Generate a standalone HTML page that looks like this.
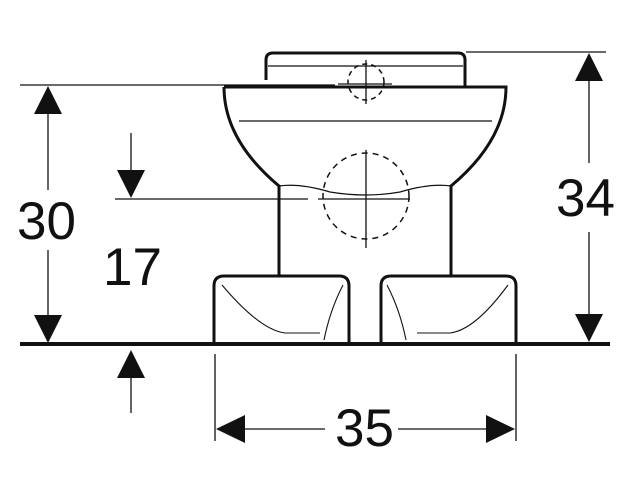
<!DOCTYPE html>
<html><head><style>
html,body{margin:0;padding:0;background:#fff;}
svg{display:block;}
text{font-family:"Liberation Sans",sans-serif;font-size:53px;fill:#111;}
</style></head><body>
<svg width="642" height="479" viewBox="0 0 642 479" xmlns="http://www.w3.org/2000/svg">
<g stroke="#111" fill="none">
<!-- tank -->
<path d="M266,80 L266,60 Q266,53 273,53 L458,53 Q465,53 465,60 L465,87" stroke-width="3"/>
<line x1="268" y1="66" x2="463" y2="66" stroke-width="1.3"/>
<!-- bowl -->
<path d="M224,87 L506,87 Q506,140 451,186 L451,276 M279,276 L279,186 Q224,140 224,87" stroke-width="3"/>
<line x1="239" y1="121" x2="492" y2="121" stroke-width="1.3"/>
<path d="M279,186 Q300,183 330,192 Q366,198 400,192 Q430,183 451,186" stroke-width="1.2"/>
<!-- feet -->
<path d="M214,343 L214,286 Q214,276 224,276 L339,276 Q349,276 349,286 L349,343" stroke-width="3"/>
<path d="M381,343 L381,286 Q381,276 391,276 L506,276 Q516,276 516,286 L516,343" stroke-width="3"/>
<path d="M222,285 Q260,330 285,333 L320,333 M343,285 Q330,310 324,340" stroke-width="1.1"/>
<path d="M387,285 Q400,310 406,340 M417,333 L450,333 Q475,330 508,285" stroke-width="1.1"/>
<!-- dashed circles -->
<circle cx="366" cy="82" r="18" stroke-width="1.5" stroke-dasharray="5,4"/>
<line x1="366" y1="60" x2="366" y2="104" stroke-width="1.3"/>
<line x1="338" y1="84" x2="392" y2="84" stroke-width="1.3"/>
<circle cx="366" cy="196" r="43" stroke-width="1.5" stroke-dasharray="6,5"/>
<line x1="366" y1="150" x2="366" y2="248" stroke-width="1.3"/>
<!-- ground -->
<line x1="20" y1="344" x2="610" y2="344" stroke-width="4"/>
<!-- 30 -->
<line x1="20" y1="85" x2="335" y2="85" stroke-width="1.3"/>
<line x1="48" y1="110" x2="48" y2="190" stroke-width="1.3"/>
<line x1="48" y1="250" x2="48" y2="320" stroke-width="1.3"/>
<!-- 17 -->
<line x1="131" y1="133" x2="131" y2="175" stroke-width="1.3"/>
<line x1="115" y1="199" x2="308" y2="199" stroke-width="1.3"/>
<line x1="318" y1="199" x2="410" y2="199" stroke-width="1.3"/>
<line x1="131" y1="375" x2="131" y2="413" stroke-width="1.3"/>
<!-- 34 -->
<line x1="466" y1="52" x2="606" y2="52" stroke-width="1.3"/>
<line x1="589" y1="80" x2="589" y2="163" stroke-width="1.3"/>
<line x1="589" y1="232" x2="589" y2="316" stroke-width="1.3"/>
<!-- 35 -->
<line x1="215" y1="354" x2="215" y2="441" stroke-width="1.3"/>
<line x1="516" y1="354" x2="516" y2="441" stroke-width="1.3"/>
<line x1="240" y1="429" x2="325" y2="429" stroke-width="1.3"/>
<line x1="398" y1="429" x2="490" y2="429" stroke-width="1.3"/>
</g>
<g fill="#111">
<polygon points="48,86 34,114 62,114"/>
<polygon points="48,343 34,315 62,315"/>
<polygon points="131,198 117,170 145,170"/>
<polygon points="131,350 117,378 145,378"/>
<polygon points="589,53 575,81 603,81"/>
<polygon points="589,342 575,314 603,314"/>
<polygon points="216,429 245,415 245,443"/>
<polygon points="515,429 486,415 486,443"/>
</g>
<text x="17" y="239">30</text>
<text x="103" y="285">17</text>
<text x="556" y="216">34</text>
<text x="335" y="446">35</text>
</svg>
</body></html>
